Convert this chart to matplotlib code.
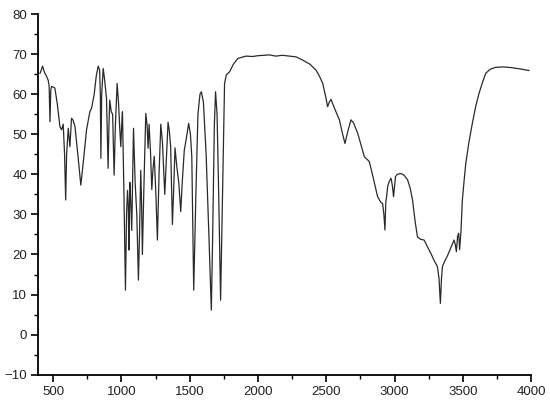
import matplotlib
matplotlib.use("Agg")
import matplotlib.pyplot as plt
from matplotlib.ticker import MultipleLocator

# wavenumber (cm-1) and transmittance
wavenumber = [
    403, 412, 422, 435, 450, 463, 470, 476, 482, 488, 500, 512, 530, 549, 561, 573,
    583, 591, 598, 610, 622, 634, 645, 659, 680, 702, 720, 744, 768, 781, 800, 815,
    829, 840, 845, 849, 855, 866, 875, 890, 902, 908, 914, 925, 935, 946, 955, 968,
    978, 988, 995, 1001, 1007, 1018, 1029, 1037, 1044, 1050, 1054, 1061, 1068, 1075,
    1088, 1100, 1112, 1124, 1132, 1141, 1147, 1153, 1165, 1178, 1188, 1195, 1202, 1212,
    1222, 1230, 1240, 1252, 1263, 1275, 1288, 1300, 1317, 1330, 1341, 1350, 1360, 1373,
    1382, 1392, 1405, 1420, 1434, 1445, 1460, 1475, 1492, 1505, 1515, 1529, 1545, 1560,
    1575, 1585, 1600, 1620, 1640, 1658, 1668, 1680, 1689, 1700, 1712, 1726, 1740, 1755,
    1768, 1792, 1820, 1852, 1880, 1913, 1960, 2000, 2040, 2084, 2130, 2180, 2230, 2280,
    2327, 2380, 2425, 2450, 2474, 2495, 2510, 2522, 2535, 2560, 2596, 2620, 2637, 2660,
    2681, 2700, 2730, 2779, 2815, 2845, 2876, 2900, 2913, 2922, 2930, 2936, 2942, 2950,
    2961, 2975, 2985, 2993, 3000, 3007, 3020, 3047, 3070, 3096, 3115, 3132, 3150, 3168,
    3190, 3217, 3240, 3266, 3290, 3314, 3326, 3336, 3344, 3351, 3370, 3387, 3410, 3436,
    3445, 3453, 3462, 3470, 3477, 3483, 3487, 3497, 3510, 3522, 3545, 3570, 3595, 3619,
    3645, 3668, 3700, 3741, 3800, 3863, 3920, 3985,
]
transmittance = [
    65.2, 66.0, 67.0, 65.5, 64.5, 63.5, 62.0, 53.1, 61.0, 61.9, 61.8, 61.5, 57.5, 51.9,
    51.1, 52.5, 45.0, 33.6, 45.0, 51.5, 46.9, 54.0, 53.5, 52.0, 45.0, 37.3, 43.0, 51.1,
    55.6, 56.5, 60.0, 64.5, 67.0, 66.0, 60.0, 44.0, 60.0, 66.4, 64.0, 59.0, 41.5, 52.0,
    58.5, 55.6, 55.0, 39.8, 52.0, 62.7, 58.0, 51.0, 46.9, 52.0, 55.6, 35.0, 11.1, 30.0,
    36.0, 32.0, 21.1, 38.0, 33.0, 26.0, 51.5, 38.0, 30.0, 13.6, 25.0, 41.0, 33.0, 20.0,
    38.0, 55.2, 52.0, 46.5, 52.5, 46.0, 36.2, 41.0, 44.5, 35.0, 23.6, 40.0, 52.5, 48.0,
    35.0, 45.0, 53.0, 51.0, 47.0, 27.5, 36.0, 46.6, 42.0, 37.8, 30.7, 38.0, 46.0, 49.0,
    52.7, 50.0, 44.4, 11.1, 35.0, 55.0, 60.0, 60.6, 58.0, 45.0, 25.0, 6.1, 25.0, 52.0,
    60.6, 55.0, 35.0, 8.6, 35.0, 62.7, 64.8, 65.6, 67.5, 68.9, 69.2, 69.5, 69.4, 69.6,
    69.7, 69.8, 69.5, 69.7, 69.5, 69.3, 68.5, 67.5, 66.0, 64.5, 62.7, 59.5, 56.9, 58.0,
    58.7, 56.5, 53.6, 50.0, 47.7, 51.0, 53.6, 52.8, 50.3, 44.4, 43.2, 39.0, 34.4, 33.0,
    32.7, 30.0, 26.1, 33.0, 34.4, 37.0, 38.2, 39.0, 37.0, 34.4, 37.0, 39.4, 40.0, 40.2,
    39.8, 38.6, 36.5, 33.6, 28.5, 24.4, 23.8, 23.6, 22.0, 20.3, 18.5, 17.0, 14.0, 7.8,
    14.0, 17.0, 18.5, 19.6, 21.5, 23.6, 22.5, 20.7, 24.5, 25.3, 21.2, 24.0, 26.0, 33.6,
    38.5, 42.7, 48.0, 52.7, 57.0, 60.2, 63.0, 65.2, 66.2, 66.7, 66.8, 66.6, 66.3, 65.9,
]

fig = plt.figure(figsize=(5.5, 4.04), dpi=100)
ax = fig.add_axes([0.0695, 0.0725, 0.8960, 0.8928])

ax.plot(wavenumber, transmittance, color="#2a2a2a", lw=0.9)

ax.set_xlim(390, 4000)
ax.set_ylim(-10, 80)
ax.xaxis.set_major_locator(MultipleLocator(500))
ax.xaxis.set_minor_locator(MultipleLocator(250))
ax.yaxis.set_major_locator(MultipleLocator(10))
ax.yaxis.set_minor_locator(MultipleLocator(5))

for side in ("top", "right"):
    ax.spines[side].set_visible(False)
for side in ("left", "bottom"):
    ax.spines[side].set_linewidth(1.3)
    ax.spines[side].set_color("black")

ax.tick_params(which="major", direction="out", length=5, width=1.2, labelsize=9.5,
               labelcolor="#222222", pad=3)
ax.tick_params(which="minor", direction="out", length=3, width=1.0)

for lab in ax.get_xticklabels() + ax.get_yticklabels():
    lab.set_fontfamily("Liberation Sans")

fig.savefig("out.png", dpi=100)
